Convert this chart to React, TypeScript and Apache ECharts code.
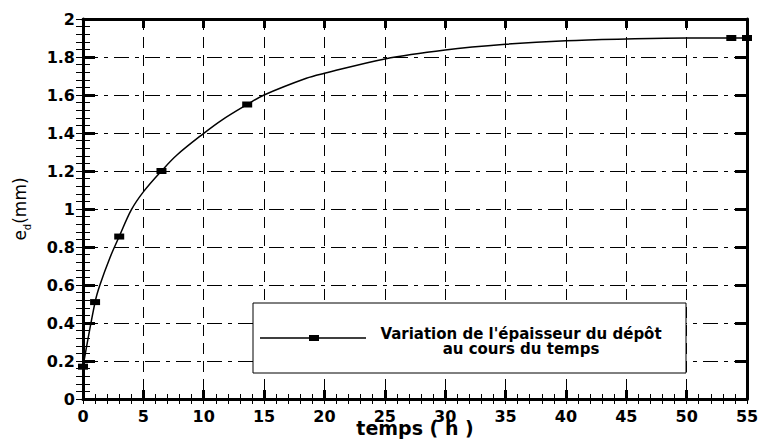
import React, { useEffect, useRef } from "react";
import * as echarts from "echarts";

// Smooth curve (time in h, thickness in mm)
const curveTime = [0, 1, 1.4, 2.24, 3, 4, 5, 6.5, 7.76, 10, 11.5, 13.6, 15, 18.5, 20, 25, 30, 35, 40, 45, 50, 53.7, 55];
const curveThickness = [0.17, 0.51, 0.6, 0.745, 0.855, 0.995, 1.09, 1.2, 1.283, 1.398, 1.468, 1.55, 1.6, 1.688, 1.714, 1.79, 1.837, 1.867, 1.886, 1.895, 1.9, 1.9, 1.9];

// Measured points (square markers)
const measuredTime = [0, 1, 3, 6.5, 13.6, 53.7, 55];
const measuredThickness = [0.17, 0.51, 0.855, 1.2, 1.55, 1.9, 1.9];

const xName = "temps ( h )";
const seriesName = "Variation de l'épaisseur du dépôt au cours du temps";
const legendLine1 = "Variation de l'épaisseur du dépôt";
const legendLine2 = "au cours du temps";

const FONT = "DejaVu Sans";
const LEGEND_ICON =
  "path://M0,2.75 L49,2.75 L49,0.5 L59,0.5 L59,2.75 L106,2.75 L106,4.25 L59,4.25 L59,6.5 L49,6.5 L49,4.25 L0,4.25 Z";

export default function App() {
  const ref = useRef<HTMLDivElement>(null);
  useEffect(() => {
    document.body.style.margin = "0";
    if (!ref.current) return;
    const chart = echarts.init(ref.current, undefined, { renderer: "svg" });

    const seriesData = curveTime.map((t, i) => {
      const k = measuredTime.indexOf(t);
      if (k >= 0) {
        return { value: [t, measuredThickness[k]], symbol: "rect", symbolSize: [10, 6] };
      }
      return { value: [t, curveThickness[i]], symbol: "none" };
    });

    // tick-only axes used for the minor ticks (instead of minorTick)
    const minorX = (position: string) => ({
      type: "value",
      min: 0,
      max: 55,
      interval: 1,
      position,
      axisLine: { show: false },
      axisTick: { show: true, inside: true, length: 5, lineStyle: { color: "#000", width: 1 } },
      axisLabel: { show: false },
      splitLine: { show: false },
    });
    const minorY = (position: string) => ({
      type: "value",
      min: 0,
      max: 2,
      interval: 0.04,
      position,
      axisLine: { show: false },
      axisTick: { show: true, inside: true, length: 7, lineStyle: { color: "#000", width: 1 } },
      axisLabel: { show: false },
      splitLine: { show: false },
    });

    chart.setOption({
      animation: false,
      backgroundColor: "#fff",
      grid: { left: 83, right: 13, top: 19, bottom: 44, outerBoundsMode: "none", containLabel: false },
      legend: {
        data: [{ name: seriesName, icon: LEGEND_ICON }],
        selectedMode: false,
        left: 253,
        top: 303,
        orient: "horizontal",
        padding: [23, 15, 17, 7],
        itemWidth: 106,
        itemHeight: 7,
        itemGap: 0,
        backgroundColor: "#fff",
        borderColor: "#000",
        borderWidth: 1,
        itemStyle: { color: "#000", borderWidth: 0 },
        formatter: () => `{a|${legendLine1}}\n{a|${legendLine2}}`,
        textStyle: {
          color: "#000",
          fontFamily: FONT,
          fontWeight: "bold",
          fontSize: 15,
          padding: [6, 0, 0, 0],
          rich: {
            a: {
              width: 300,
              align: "center",
              lineHeight: 15,
              color: "#000",
              fontFamily: FONT,
              fontWeight: "bold",
              fontSize: 15,
            },
          },
        },
      },
      xAxis: [
        {
          type: "value",
          min: 0,
          max: 55,
          interval: 5,
          position: "bottom",
          axisLine: { show: true, onZero: false, lineStyle: { color: "#000", width: 3 } },
          axisTick: { show: true, inside: true, length: 9, lineStyle: { color: "#000", width: 3 } },
          axisLabel: { color: "#000", fontFamily: FONT, fontWeight: "bold", fontSize: 16, margin: 9 },
          splitLine: { show: true, lineStyle: { color: "#000", width: 1, type: [11, 7] } },
          name: xName,
          nameLocation: "middle",
          nameGap: 19,
          nameMoveOverlap: false,
          nameTextStyle: { color: "#000", fontFamily: FONT, fontWeight: "bold", fontSize: 19 },
        },
        {
          type: "value",
          min: 0,
          max: 55,
          interval: 5,
          position: "top",
          axisLine: { show: true, onZero: false, lineStyle: { color: "#000", width: 3 } },
          axisTick: { show: true, inside: true, length: 9, lineStyle: { color: "#000", width: 3 } },
          axisLabel: { show: false },
          splitLine: { show: false },
        },
        minorX("bottom"),
        minorX("top"),
      ],
      yAxis: [
        {
          type: "value",
          min: 0,
          max: 2,
          interval: 0.2,
          position: "left",
          axisLine: { show: true, onZero: false, lineStyle: { color: "#000", width: 3 } },
          axisTick: { show: true, inside: true, length: 12, lineStyle: { color: "#000", width: 3 } },
          axisLabel: { color: "#000", fontFamily: FONT, fontWeight: "bold", fontSize: 16, margin: 8 },
          splitLine: { show: true, lineStyle: { color: "#000", width: 1, type: [15, 6, 4, 6] } },
          name: "{e|e}{d|d}{e|(mm)}",
          nameLocation: "middle",
          nameRotate: 90,
          nameGap: 55,
          nameTextStyle: {
            color: "#000",
            fontFamily: FONT,
            fontSize: 17,
            rich: {
              e: { fontFamily: FONT, fontSize: 17, color: "#000", verticalAlign: "bottom" },
              d: { fontFamily: FONT, fontSize: 10, color: "#000", verticalAlign: "bottom", padding: [0, 0, -4, 0] },
            },
          },
        },
        {
          type: "value",
          min: 0,
          max: 2,
          interval: 0.2,
          position: "right",
          axisLine: { show: true, onZero: false, lineStyle: { color: "#000", width: 3 } },
          axisTick: { show: true, inside: true, length: 12, lineStyle: { color: "#000", width: 3 } },
          axisLabel: { show: false },
          splitLine: { show: false },
        },
        minorY("left"),
        minorY("right"),
      ],
      series: [
        {
          name: seriesName,
          type: "line",
          xAxisIndex: 0,
          yAxisIndex: 0,
          data: seriesData,
          smooth: 0.35,
          showSymbol: true,
          symbol: "rect",
          clip: false,
          lineStyle: { color: "#000", width: 1.5 },
          itemStyle: { color: "#000", opacity: 1 },
        },
      ],
    });
    return () => chart.dispose();
  }, []);
  return <div ref={ref} style={{ width: 760, height: 443 }} />;
}
